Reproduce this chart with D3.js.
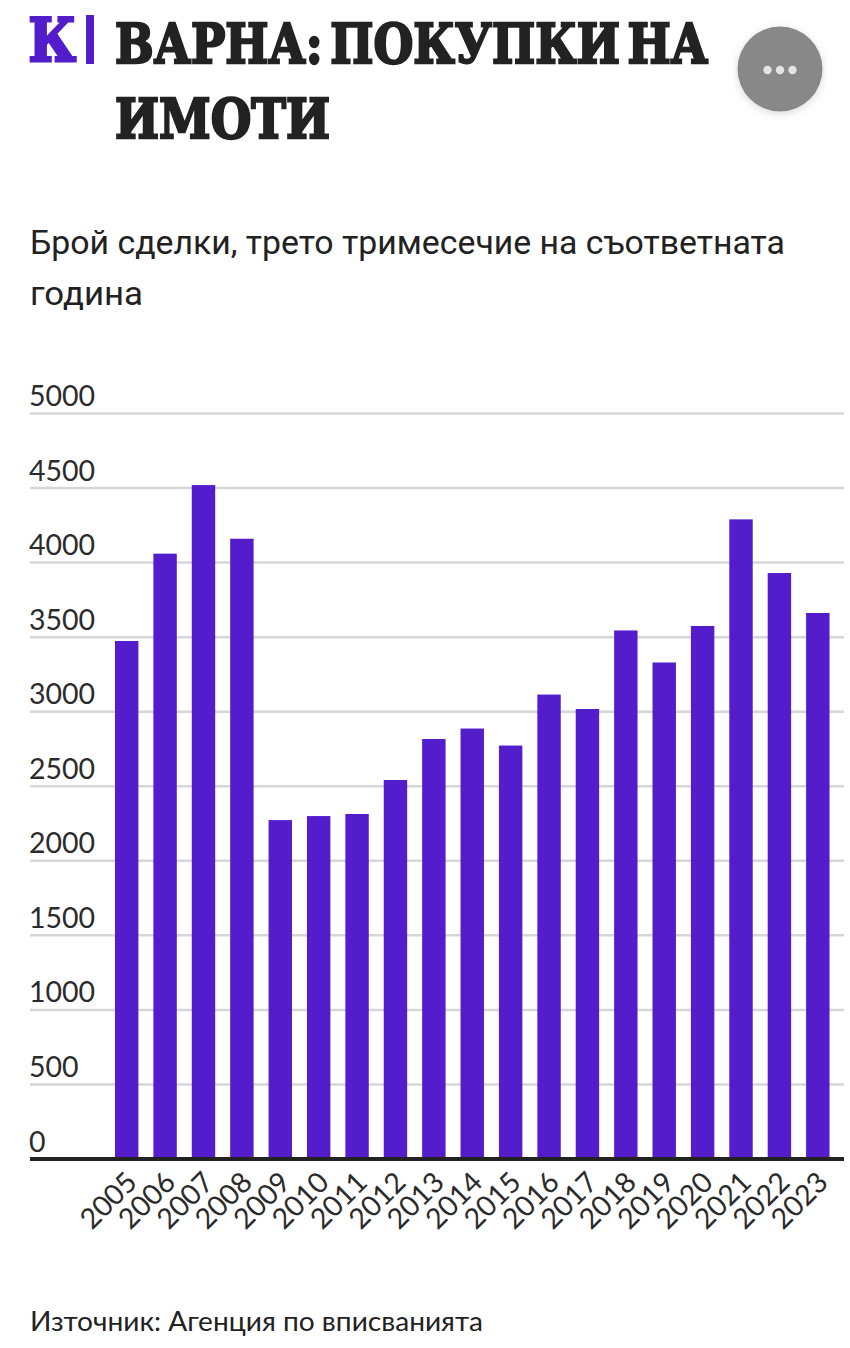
<!DOCTYPE html>
<html>
<head>
<meta charset="utf-8">
<script src="https://cdn.jsdelivr.net/npm/d3@7"></script>
<style>
  html, body { margin: 0; padding: 0; background: #fff; }
  svg { display: block; }
  .tick-label { font-family: Lato, "Open Sans", sans-serif; font-size: 28.5px; fill: #2b2b2b; }
</style>
</head>
<body>
<div id="chart"></div>
<script>
// Values
const years = ["2005", "2006", "2007", "2008", "2009", "2010", "2011", "2012", "2013", "2014",
  "2015", "2016", "2017", "2018", "2019", "2020", "2021", "2022", "2023"];
const deals = [3474, 4060, 4520, 4160, 2273, 2300, 2314, 2542, 2817, 2887,
  2773, 3115, 3018, 3545, 3330, 3575, 4290, 3930, 3662];
const yTicks = [0, 500, 1000, 1500, 2000, 2500, 3000, 3500, 4000, 4500, 5000];
const titleLines = ["ВАРНА: ПОКУПКИ НА", "ИМОТИ"];
const subtitleLines = ["Брой сделки, трето тримесечие на съответната", "година"];
const source = "Източник: Агенция по вписванията";

const purple = "#531dcb";
const ink = "#222222";

const svg = d3.select("#chart").append("svg")
  .attr("width", 850)
  .attr("height", 1348);

const defs = svg.append("defs");
const shadow = defs.append("filter").attr("id", "shadow")
  .attr("x", "-30%").attr("y", "-30%").attr("width", "160%").attr("height", "160%");
shadow.append("feDropShadow")
  .attr("dx", 0).attr("dy", 2).attr("stdDeviation", 4)
  .attr("flood-color", "#000").attr("flood-opacity", 0.15);

// Header: logo, title, menu button
svg.append("text")
  .attr("x", 28.5).attr("y", 61)
  .attr("font-family", "'DejaVu Serif', serif")
  .attr("font-weight", 700)
  .attr("font-size", 60)
  .attr("textLength", 47.5).attr("lengthAdjust", "spacingAndGlyphs")
  .attr("stroke", purple).attr("stroke-width", 3)
  .attr("fill", purple)
  .text("К");
svg.append("rect")
  .attr("x", 86).attr("y", 15).attr("width", 8).attr("height", 49)
  .attr("fill", purple);

const titleWidths = [593, 215];
svg.selectAll("text.title").data(titleLines).join("text")
  .attr("class", "title")
  .attr("x", 115)
  .attr("y", (d, i) => 62.5 + i * 75)
  .attr("font-family", "'DejaVu Serif', serif")
  .attr("font-weight", 700)
  .attr("font-size", 54)
  .attr("word-spacing", -10)
  .attr("textLength", (d, i) => titleWidths[i])
  .attr("lengthAdjust", "spacingAndGlyphs")
  .attr("fill", ink)
  .attr("stroke", ink)
  .attr("stroke-width", 2.4)
  .text(d => d);

svg.append("circle")
  .attr("cx", 780).attr("cy", 69).attr("r", 42.5)
  .attr("fill", "#888888")
  .attr("filter", "url(#shadow)");
svg.selectAll("circle.dot").data([-12.5, 0, 12.5]).join("circle")
  .attr("class", "dot")
  .attr("cx", d => 780 + d).attr("cy", 70).attr("r", 4.2)
  .attr("fill", "#e4e4e4");

// Subtitle
const subtitleWidths = [755, 113];
svg.selectAll("text.subtitle").data(subtitleLines).join("text")
  .attr("class", "subtitle")
  .attr("x", 30)
  .attr("y", (d, i) => 254 + i * 50.5)
  .attr("font-family", "Roboto, sans-serif")
  .attr("font-size", 33)
  .attr("textLength", (d, i) => subtitleWidths[i])
  .attr("lengthAdjust", "spacingAndGlyphs")
  .attr("fill", ink)
  .text(d => d);

// Scales
const x = d3.scaleBand()
  .domain(years)
  .range([107.5, 837])
  .paddingInner(0.39)
  .paddingOuter(0.195);

const y = d3.scaleLinear()
  .domain([0, 5000])
  .range([1159, 413.5]);

// Grid lines and y labels
const grid = svg.append("g");
grid.selectAll("line").data(yTicks.filter(d => d > 0)).join("line")
  .attr("x1", 30).attr("x2", 844)
  .attr("y1", d => y(d)).attr("y2", d => y(d))
  .attr("stroke", "#d6d6d6")
  .attr("stroke-width", 2.5);

grid.selectAll("text").data(yTicks).join("text")
  .attr("class", "tick-label")
  .attr("x", 29)
  .attr("y", d => y(d) - 7.5)
  .text(d => d);

// Bars
svg.append("g").selectAll("rect").data(deals).join("rect")
  .attr("x", (d, i) => x(years[i]))
  .attr("y", d => y(d))
  .attr("width", x.bandwidth())
  .attr("height", d => y(0) - y(d))
  .attr("fill", purple);

// X axis
const xAxis = svg.append("g")
  .attr("transform", `translate(0, ${y(0)})`)
  .call(d3.axisBottom(x).tickSize(0).tickPadding(0));
xAxis.select(".domain").remove();
svg.append("line")
  .attr("x1", 30).attr("x2", 844)
  .attr("y1", y(0)).attr("y2", y(0))
  .attr("stroke", ink)
  .attr("stroke-width", 4);
xAxis.selectAll("text")
  .attr("class", "tick-label")
  .attr("text-anchor", "end")
  .attr("transform", "translate(12, 25) rotate(-45)")
  .attr("dy", 0);

// Source
svg.append("text")
  .attr("x", 30).attr("y", 1331)
  .attr("font-family", "Lato, 'Open Sans', sans-serif")
  .attr("font-size", 27)
  .attr("textLength", 453)
  .attr("lengthAdjust", "spacingAndGlyphs")
  .attr("fill", ink)
  .text(source);
</script>
</body>
</html>
